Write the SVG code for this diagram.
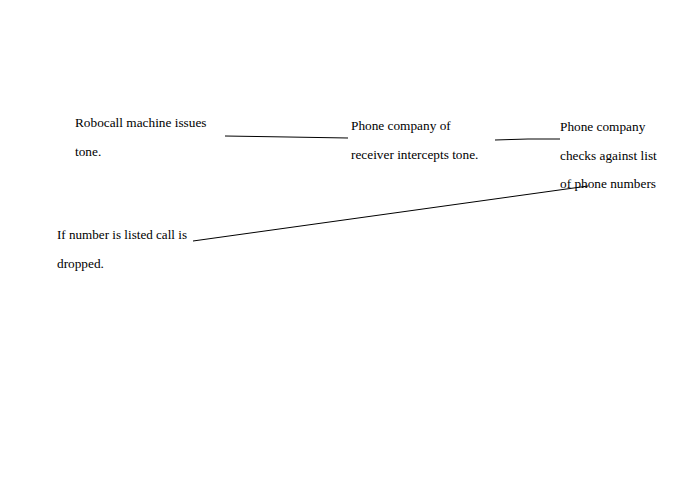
<svg xmlns="http://www.w3.org/2000/svg" width="695" height="494" viewBox="0 0 695 494">
<style>text{font-family:"Liberation Serif",serif;font-size:13.3px;fill:#000}line,polyline{stroke:#000;stroke-width:1;fill:none}</style>
<rect width="695" height="494" fill="#fff"/>
<g id="n1"><text x="75" y="127">Robocall machine issues</text><text x="75" y="156">tone.</text></g>
<g id="n2"><text x="351" y="130">Phone company of</text><text x="351" y="159">receiver intercepts tone.</text></g>
<g id="n3"><text x="560" y="131">Phone company</text><text x="560" y="160">checks against list</text><text x="560" y="188">of phone numbers</text></g>
<g id="n4"><text x="57" y="239" textLength="130" lengthAdjust="spacingAndGlyphs">If number is listed call is</text><text x="57" y="268">dropped.</text></g>
<g id="connectors">
<polyline points="225,136 288,137 348,138"/>
<polyline points="495,140 528,139 560,139"/>
<line x1="193" y1="241" x2="588" y2="186"/>
</g>
</svg>
